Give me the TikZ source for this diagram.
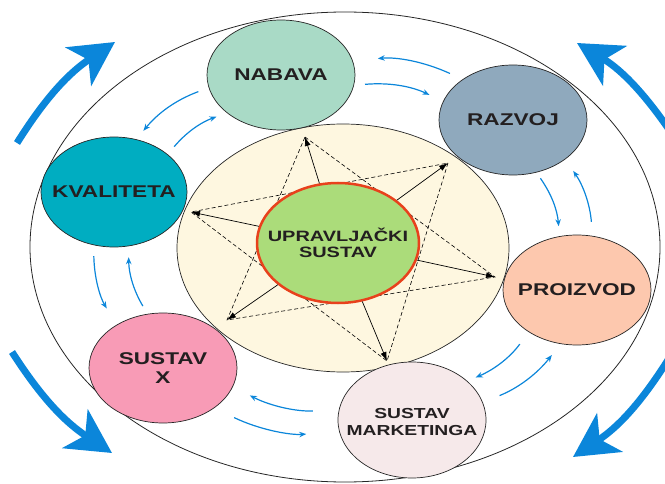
\documentclass[tikz,border=0pt]{standalone}
\usepackage{fontspec}
\usetikzlibrary{shapes.geometric,arrows.meta}
\newfontfamily\lblfont{Liberation Sans}[FakeStretch=1.33]
\definecolor{nabcol}{HTML}{A9DAC6}
\definecolor{razcol}{HTML}{8FA9BD}
\definecolor{kvacol}{HTML}{00ADC1}
\definecolor{procol}{HTML}{FDC8AE}
\definecolor{sxcol}{HTML}{F89BB6}
\definecolor{mktcol}{HTML}{F6E9EA}
\definecolor{cream}{HTML}{FEF7E0}
\definecolor{ctrgreen}{HTML}{ABDC7A}
\definecolor{ctrred}{HTML}{E8411C}
\definecolor{flowblue}{HTML}{0B86DA}
\definecolor{txt}{HTML}{231F20}

\begin{document}
\begin{tikzpicture}[x=1pt,y=-1pt,
	unit/.style={ellipse, draw=black!85, line width=0.7pt, inner sep=0pt, minimum width=148pt, minimum height=110pt},
	lbl/.style={font=\lblfont\bfseries\fontsize{17}{19}\selectfont, text=txt, align=center},
	small/.style={lbl, font=\lblfont\bfseries\fontsize{14.5}{17}\selectfont},
	flow/.style={draw=flowblue, line width=1.2pt, -{Stealth[length=7pt,width=5.5pt]}},
	big/.style={draw=flowblue, line width=7pt, -{Stealth[length=44pt,width=46pt,inset=12pt]}},
	ray/.style={line width=0.7pt, -{Latex[length=9pt,width=6pt]}}]
	\useasboundingbox (0,0) rectangle (665,484);
	% rings
	\node[ellipse, draw=black!85, line width=0.8pt, inner sep=0pt, minimum width=630pt, minimum height=470pt] (rim) at (345,247) {};
	\node[ellipse, draw=black!85, line width=0.7pt, fill=cream, inner sep=0pt, minimum width=332pt, minimum height=248pt] (core) at (343,248) {};
	
	% star
	\coordinate (t1) at (305,137);
	\coordinate (t2) at (448,163);
	\coordinate (t3) at (495,277);
	\coordinate (t4) at (387,361);
	\coordinate (t5) at (227,320);
	\coordinate (t6) at (191,212);
	\draw[dash pattern=on 4pt off 2.5pt, line width=0.6pt] (t1) -- (t3) -- (t5) -- cycle;
	\draw[dash pattern=on 4pt off 2.5pt, line width=0.6pt] (t2) -- (t4) -- (t6) -- cycle;
	
	% subsystems
	\node[unit, fill=nabcol, label={[lbl]center:NABAVA}] (nab) at (281,75) {};
	\node[unit, fill=razcol, label={[lbl]center:RAZVOJ}] (raz) at (513,120) {};
	\node[unit, fill=kvacol, minimum width=146pt, label={[lbl]center:KVALITETA}] (kva) at (114,192) {};
	\node[unit, fill=procol, label={[lbl]center:PROIZVOD}] (pro) at (577,290) {};
	\node[unit, fill=sxcol, label={[lbl]center:SUSTAV\\X}] (sx) at (163,368) {};
	\node[unit, fill=mktcol, minimum height=116pt, label={[small, yshift=-2pt]center:SUSTAV\\MARKETINGA}] (mkt) at (412,420) {};
	
	\node[ellipse, draw=ctrred, line width=2.5pt, fill=ctrgreen, inner sep=0pt, minimum width=162pt, minimum height=120pt, label={[small, font=\lblfont\bfseries\fontsize{15}{16}\selectfont]center:UPRAVLJAČKI\\SUSTAV}] (ctr) at (338,243) {};
	
	\foreach \t in {t1,t2,t3,t4,t5,t6}
		\draw[ray] (ctr) -- (\t);
	
	% flows between subsystems
	\draw[flow, shorten <=14pt, shorten >=25pt] (raz.141) to[bend right=15] (nab.11);
	\draw[flow, shorten <=11pt, shorten >=15pt] (nab.-8) to[bend left=15] (raz.165);
	\draw[flow, shorten <=11pt, shorten >=11pt] (nab.190) to[bend right=15] (kva.67);
	\draw[flow, shorten <=10pt, shorten >=11pt] (kva.35) to[bend left=15] (nab.215);
	\draw[flow, shorten <=11pt, shorten >=19pt] (kva.249) to[bend right=15] (sx.137);
	\draw[flow, shorten <=9pt, shorten >=11pt] (sx.106) to[bend left=15] (kva.-75);
	\draw[flow, shorten <=22pt, shorten >=33pt] (sx.-38) to[bend right=15] (mkt.189);
	\draw[flow, shorten <=26pt, shorten >=19pt] (mkt.172) to[bend left=15] (sx.-15);
	\draw[flow, shorten <=18pt, shorten >=14pt] (mkt.14) to[bend right=15] (pro.253);
	\draw[flow, shorten <=15pt, shorten >=9pt] (pro.221) to[bend left=15] (mkt.35);
	\draw[flow, shorten <=14pt, shorten >=14pt] (pro.74) to[bend right=15] (raz.-37);
	\draw[flow, shorten <=7pt, shorten >=10pt] (raz.-66) to[bend left=15] (pro.108);
	
	% big turning arrows
	\coordinate (tlA) at (17,143);
	\coordinate (tlB) at (115,42);
	\coordinate (trA) at (668,128);
	\coordinate (trB) at (577,43);
	\coordinate (blA) at (12,352);
	\coordinate (blB) at (112,453);
	\coordinate (brA) at (668,360);
	\coordinate (brB) at (573,457);
	\draw[big] (tlA) to[bend left=12] (tlB);
	\draw[big] (trA) to[bend right=12] (trB);
	\draw[big] (blA) to[bend right=12] (blB);
	\draw[big] (brA) to[bend left=12] (brB);
\end{tikzpicture}
\end{document}
